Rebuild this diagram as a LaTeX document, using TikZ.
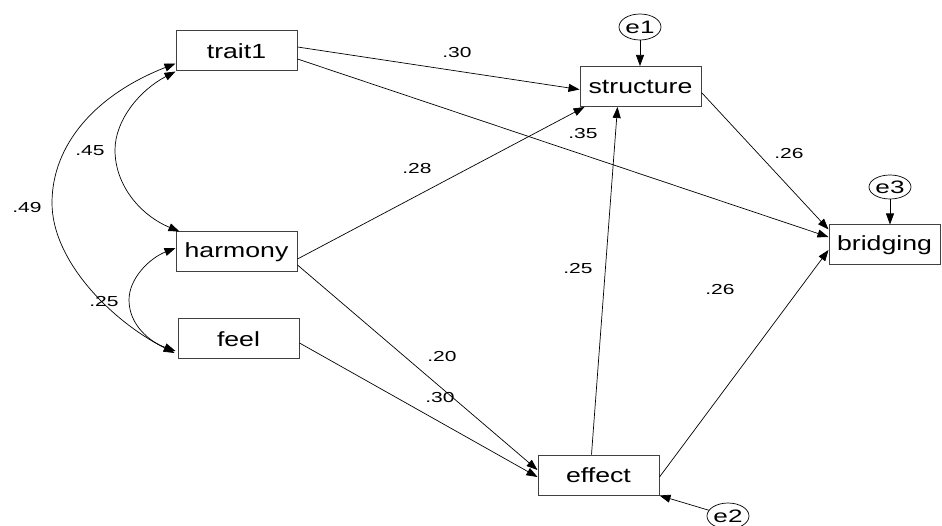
\documentclass[tikz,border=0pt]{standalone}
\usepackage{fontspec}
\usepackage{graphicx}
\setmainfont{Liberation Sans}
\usetikzlibrary{arrows.meta,calc,shapes.geometric}
\newcommand{\bt}[1]{\scalebox{1.3}[1]{\fontsize{20.5}{24}\selectfont #1}}
\newcommand{\lt}[1]{\scalebox{1.45}[1]{\fontsize{14.5}{17}\selectfont #1}}
\newcommand{\et}[1]{\scalebox{1.45}[1]{\fontsize{18}{21}\selectfont #1}}
\begin{document}
\begin{tikzpicture}[x=1pt,y=-1pt,
 vbox/.style={draw=black!75,line width=1pt,minimum width=121pt,minimum height=40pt,inner sep=0pt},
 ebox/.style={draw=black,line width=0.7pt,ellipse,minimum width=42pt,minimum height=26pt,inner sep=0pt},
 arr/.style={draw,line width=0.7pt,-{Triangle[length=11pt,width=8pt]}},
 cov/.style={draw,line width=0.7pt,{Triangle[length=11pt,width=8pt]}-{Triangle[length=11pt,width=8pt]}},
 lab/.style={inner sep=0pt}]
\useasboundingbox (0,0) rectangle (942,526);
\fill[white] (0,0) rectangle (942,526);
% variables
\node[vbox] (trait1) at (236.5,51) {\bt{trait1}};
\node[vbox] (harmony) at (236.5,252) {\bt{harmony}};
\node[vbox] (feel) at (238.5,339) {\bt{feel}};
\node[vbox] (structure) at (640.5,86.5) {\bt{structure}};
\node[vbox,minimum width=111pt] (bridging) at (884.5,245) {\bt{bridging}};
\node[vbox] (effect) at (598.5,475) {\bt{effect}};
\node[ebox] (e1) at (640,27) {\et{e1}};
\node[ebox,minimum height=24pt] (e3) at (890,187) {\et{e3}};
\node[ebox] (e2) at (728,516) {\et{e2}};
% paths
\draw[arr] ($(trait1.east)+(0,-4)$) -- ($(structure.west)+(0,3)$);
\draw[arr] ($(trait1.east)+(0,8)$) -- ($(bridging.west)+(0,-8)$);
\draw[arr] ($(harmony.east)+(0,7)$) -- ($(structure.south west)+(5,0)$);
\draw[arr] ($(harmony.east)+(0,13)$) -- ($(effect.west)+(0,-5)$);
\draw[arr] ($(feel.east)+(0,4)$) -- ($(effect.west)+(0,2)$);
\draw[arr] ($(effect.north)+(-7,0)$) -- ($(structure.south)+(-23,0)$);
\draw[arr] ($(effect.east)+(0,2)$) -- ($(bridging.west)+(0,5)$);
\draw[arr] ($(structure.east)+(0,6)$) -- ($(bridging.north west)+(0,5)$);
\draw[arr] (e1.south) -- (e1.south |- structure.north);
\draw[arr] (e3.south) -- (e3.south |- bridging.north);
\draw[arr] (e2) -- (effect.south east);
% covariances
\draw[cov] ($(trait1.south west)+(0,-8)$) .. controls (95,95) and (52,145) .. (52,203) .. controls (52,260) and (110,320) .. ($(feel.west)+(-3,14)$);
\draw[cov] (trait1.south west) .. controls (140,90) and (115,120) .. (115,150) .. controls (115,185) and (140,215) .. ($(harmony.north west)+(4,0)$);
\draw[cov] ($(harmony.west)+(0,-4)$) .. controls (150,258) and (129,278) .. (129,300) .. controls (129,325) and (150,342) .. ($(feel.west)+(-2,12)$);
% labels
\node[lab] (l1) at (457,53) {\lt{.30}};
\node[lab] (l2) at (583,134) {\lt{.35}};
\node[lab] (l3) at (417,169) {\lt{.28}};
\node[lab] (l4) at (90,151) {\lt{.45}};
\node[lab] (l5) at (27,208) {\lt{.49}};
\node[lab] (l6) at (104,302) {\lt{.25}};
\node[lab] (l7) at (442,357) {\lt{.20}};
\node[lab] (l8) at (440,398) {\lt{.30}};
\node[lab] (l9) at (578,269) {\lt{.25}};
\node[lab] (l10) at (789,154) {\lt{.26}};
\node[lab] (l11) at (720,290) {\lt{.26}};
\end{tikzpicture}
\end{document}
